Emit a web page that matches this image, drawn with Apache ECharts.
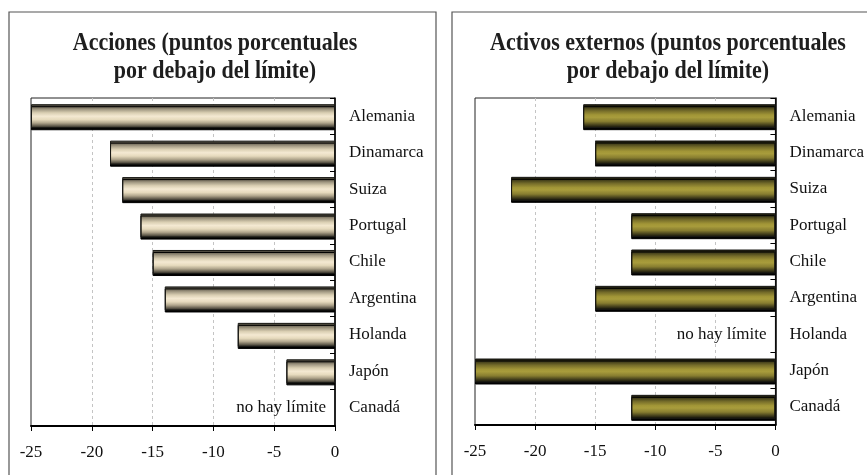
<!DOCTYPE html>
<html>
<head>
<meta charset="utf-8">
<script src="https://cdn.jsdelivr.net/npm/echarts@6/dist/echarts.min.js"></script>
<style>
  html, body { margin: 0; padding: 0; background: #fff; }
  #chart { width: 867px; height: 475px; }
</style>
</head>
<body>
<div id="chart"></div>
<script>
// Countries, top to bottom
const categories = ['Alemania', 'Dinamarca', 'Suiza', 'Portugal', 'Chile', 'Argentina', 'Holanda', 'Japón', 'Canadá'];
// Percentage points below the limit (null = no limit)
const accionesValues = [-25, -18.5, -17.5, -16, -15, -14, -8, -4, null];
const activosValues = [-16, -15, -22, -12, -12, -15, null, -25, -12];
const xTicks = { min: -25, max: 0, interval: 5 };
const titles = ['Acciones (puntos porcentuales\npor debajo del límite)',
                'Activos externos (puntos porcentuales\npor debajo del límite)'];
const noLimitText = 'no hay límite';

const FONT = '"Liberation Serif", "Times New Roman", serif';

const creamFill = new echarts.graphic.LinearGradient(0, 0, 0, 1, [
  { offset: 0.00, color: '#302e28' },
  { offset: 0.10, color: '#666050' },
  { offset: 0.22, color: '#a39a84' },
  { offset: 0.36, color: '#dacfb3' },
  { offset: 0.50, color: '#f4e9d2' },
  { offset: 0.64, color: '#e6dabd' },
  { offset: 0.78, color: '#b0a58c' },
  { offset: 0.90, color: '#625c4d' },
  { offset: 1.00, color: '#181714' }
]);
const oliveFill = new echarts.graphic.LinearGradient(0, 0, 0, 1, [
  { offset: 0.00, color: '#0c0c06' },
  { offset: 0.12, color: '#3b3818' },
  { offset: 0.28, color: '#766d2a' },
  { offset: 0.45, color: '#a29637' },
  { offset: 0.55, color: '#a89c3c' },
  { offset: 0.72, color: '#877d30' },
  { offset: 0.88, color: '#3e3a1a' },
  { offset: 1.00, color: '#0a0a05' }
]);

function barData(values) {
  return values.map(v => v === null
    ? {
        value: 0,
        itemStyle: { borderWidth: 0, shadowOffsetY: 0, color: 'rgba(0,0,0,0)' },
        label: {
          show: true, position: 'left', distance: 9, formatter: noLimitText,
          fontFamily: FONT, fontSize: 17, color: '#111'
        }
      }
    : v);
}

function xAxis(gridIndex) {
  return {
    type: 'value', gridIndex, min: xTicks.min, max: xTicks.max, interval: xTicks.interval,
    axisLine: { show: true, onZero: false, lineStyle: { color: '#000', width: 2 } },
    axisTick: { show: true, inside: false, length: 5, lineStyle: { color: '#000', width: 1 } },
    axisLabel: { margin: 18, fontFamily: FONT, fontSize: 17, color: '#111' },
    splitLine: {
      show: true, showMinLine: false, showMaxLine: false,
      lineStyle: { color: '#c4c4c4', width: 1, type: [3, 3] }
    }
  };
}

function yAxis(gridIndex) {
  return {
    type: 'category', gridIndex, data: categories, inverse: true, position: 'right',
    axisLine: { show: true, onZero: false, lineStyle: { color: '#000', width: 1.5 } },
    axisTick: { show: true, inside: true, length: 5, lineStyle: { color: '#000', width: 1 } },
    axisLabel: { margin: 14, align: 'left', fontFamily: FONT, fontSize: 17, color: '#111' },
    splitLine: { show: false }
  };
}

function barSeries(index, values, fill) {
  return {
    type: 'bar', xAxisIndex: index, yAxisIndex: index,
    data: barData(values),
    barCategoryGap: '34%',
    itemStyle: {
      color: fill, borderColor: '#1a1a16', borderWidth: 1,
      shadowColor: '#000', shadowOffsetY: 2, shadowOffsetX: 0, shadowBlur: 0
    },
    emphasis: { disabled: true },
    animation: false
  };
}

// Panel title: bold serif, two lines, slightly tall glyphs
function titleText(text, cx) {
  return {
    type: 'text', x: cx, y: 30, scaleY: 1.12, z: 10,
    style: {
      text, x: 0, y: 0, align: 'center', verticalAlign: 'top',
      fontFamily: FONT, fontWeight: 'bold', fontSize: 22, lineHeight: 25, fill: '#1e1e1e'
    }
  };
}

const chart = echarts.init(document.getElementById('chart'), null, { renderer: 'canvas' });
chart.setOption({
  backgroundColor: '#fff',
  animation: false,
  grid: [
    { left: 31, top: 98, width: 304, height: 328, show: true, borderColor: '#222', borderWidth: 1, containLabel: false },
    { left: 475, top: 98, width: 302, height: 327, show: true, borderColor: '#222', borderWidth: 1, containLabel: false }
  ],
  xAxis: [xAxis(0), xAxis(1)],
  yAxis: [yAxis(0), yAxis(1)],
  series: [
    barSeries(0, accionesValues, creamFill),
    barSeries(1, activosValues, oliveFill)
  ],
  graphic: [
    { type: 'rect', z: -1, shape: { x: 9, y: 12, width: 427, height: 480 }, style: { fill: 'none', stroke: '#555', lineWidth: 1.2 } },
    { type: 'rect', z: -1, shape: { x: 452, y: 12, width: 430, height: 480 }, style: { fill: 'none', stroke: '#555', lineWidth: 1.2 } },
    titleText(titles[0], 215),
    titleText(titles[1], 668)
  ]
});
</script>
</body>
</html>
